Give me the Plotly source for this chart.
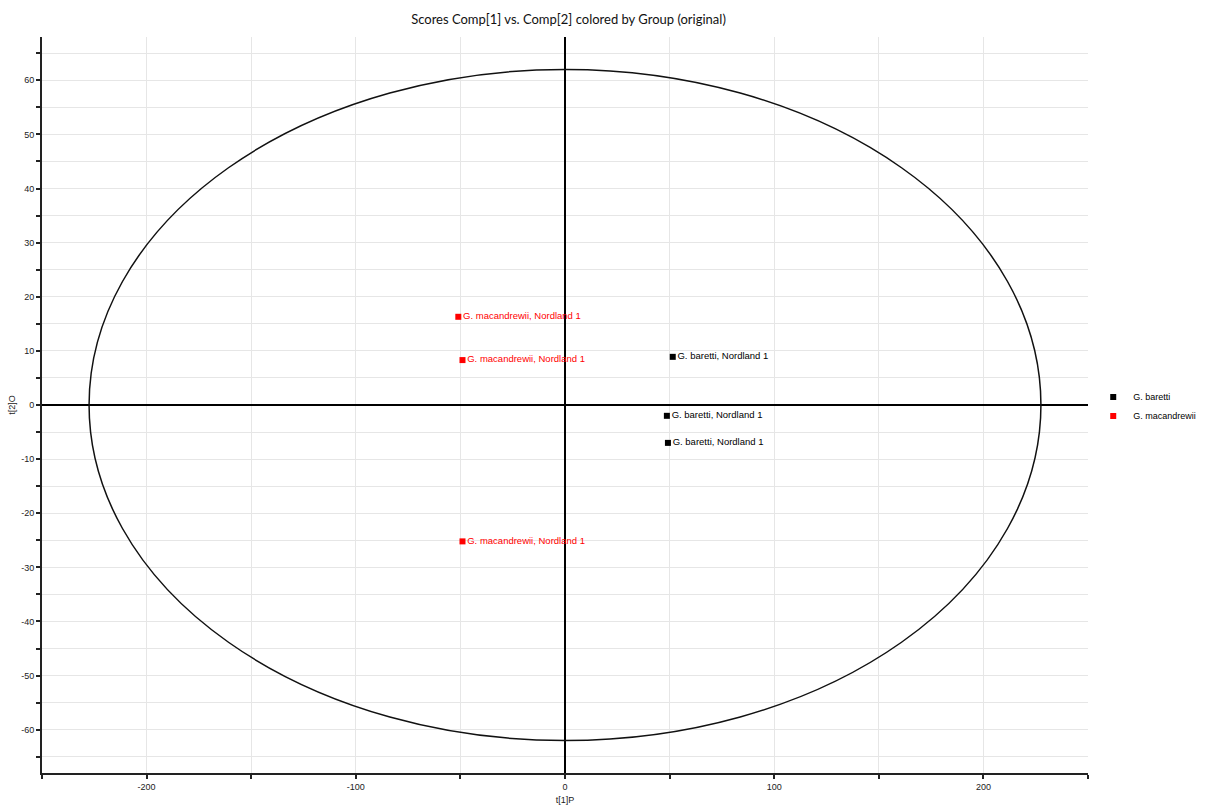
import plotly.graph_objects as go

# Data
groups = ["G. baretti", "G. macandrewii"]
colors = ["#000000", "#ff0000"]
baretti_t1 = [51.5, 48.7, 49.2]
baretti_t2 = [8.9, -2.0, -7.0]
macandrewii_t1 = [-51.0, -49.0, -49.0]
macandrewii_t2 = [16.3, 8.3, -25.2]
baretti_labels = ["G. baretti, Nordland 1"] * 3
macandrewii_labels = ["G. macandrewii, Nordland 1"] * 3
ellipse_t1 = 227.5
ellipse_t2 = 62.0

x_tickvals = list(range(-250, 251, 50))
x_ticktext = [str(v) if v % 100 == 0 else "" for v in x_tickvals]
y_tickvals = list(range(-65, 66, 5))
y_ticktext = [str(v) if v % 10 == 0 else "" for v in y_tickvals]

fig = go.Figure()
for name, col, xs, ys, labs in [
    (groups[0], colors[0], baretti_t1, baretti_t2, baretti_labels),
    (groups[1], colors[1], macandrewii_t1, macandrewii_t2, macandrewii_labels),
]:
    fig.add_trace(go.Scatter(
        x=xs, y=ys, mode="markers+text", name=name,
        text=labs, textposition="middle right",
        textfont=dict(family="Liberation Sans, Arial", size=9.5, color=col),
        marker=dict(symbol="square", size=6, color=col),
        cliponaxis=False,
    ))

fig.add_shape(type="circle", xref="x", yref="y",
              x0=-ellipse_t1, x1=ellipse_t1, y0=-ellipse_t2, y1=ellipse_t2,
              line=dict(color="#111111", width=1.5))

fig.update_layout(
    width=1220, height=808,
    paper_bgcolor="white", plot_bgcolor="white",
    margin=dict(l=42, r=132, t=37, b=35, autoexpand=False),
    title=dict(text="Scores Comp[1] vs. Comp[2] colored by Group (original)",
               x=0.466, xanchor="center", y=0.982, yanchor="top",
               font=dict(family="Lato, Open Sans", size=13, color="#111111")),
    showlegend=True,
    legend=dict(x=1.005, xanchor="left", y=0.498, yanchor="middle",
                font=dict(family="Liberation Sans, Arial", size=9, color="#000000"),
                tracegroupgap=0, itemwidth=30,
                bgcolor="rgba(0,0,0,0)"),
    font=dict(family="Liberation Sans, Arial", size=9, color="#222222"),
)
fig.update_xaxes(
    range=[-250, 250], tickvals=x_tickvals, ticktext=x_ticktext,
    showgrid=True, gridcolor="#e6e6e6", gridwidth=1,
    zeroline=True, zerolinecolor="#000000", zerolinewidth=1.5,
    showline=True, linecolor="#222222", linewidth=2,
    ticks="outside", ticklen=4, tickcolor="#222222", tickwidth=2,
    title=dict(text="t[1]P", font=dict(size=9), standoff=6),
    tickfont=dict(size=9), automargin=False,
)
fig.update_yaxes(
    range=[-68, 68], tickvals=y_tickvals, ticktext=y_ticktext,
    showgrid=True, gridcolor="#e6e6e6", gridwidth=1,
    zeroline=True, zerolinecolor="#000000", zerolinewidth=1.5,
    showline=True, linecolor="#222222", linewidth=2,
    ticks="outside", ticklen=4, tickcolor="#222222", tickwidth=2,
    title=dict(text="t[2]O", font=dict(size=9), standoff=4),
    tickfont=dict(size=9), automargin=False,
)

fig.write_html("out.html")
